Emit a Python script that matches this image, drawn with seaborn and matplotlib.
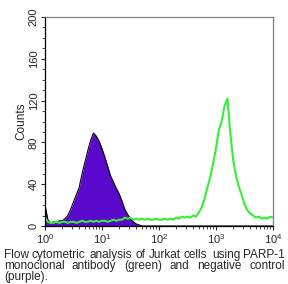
import numpy as np
import pandas as pd
import matplotlib
matplotlib.use("Agg")
import matplotlib.pyplot as plt
import matplotlib.ticker as mticker
import seaborn as sns

# channel grid (log10 fluorescence), 0.05 decade bins
log_channels = np.round(np.arange(0, 4.0001, 0.05), 2)

# negative control (purple) counts per channel
control_counts = [20, 6, 3, 4, 3, 5, 5, 7, 10, 16,
                  23, 30, 37, 50, 61, 72, 82, 89, 86, 81,
                  74, 66, 57, 48, 42, 36, 31, 24, 16, 11,
                  7, 4, 2, 1, 0, 0, 0, 0, 0, 0,
                  0, 0, 0, 0, 0, 0, 0, 0, 0, 0,
                  0, 0, 0, 0, 0, 0, 0, 0, 0, 0,
                  0, 0, 0, 0, 0, 0, 0, 0, 0, 0,
                  0, 0, 0, 0, 0, 0, 0, 0, 0, 0, 0]

# PARP-1 antibody (green) counts per channel
antibody_counts = [8, 4, 3, 3, 4, 3, 4, 4, 3, 4,
                   4, 3, 4, 5, 4, 4, 5, 4, 5, 4,
                   5, 5, 4, 5, 6, 5, 6, 6, 8, 7,
                   8, 6, 7, 6, 7, 6, 7, 6, 6, 7,
                   6, 6, 7, 6, 7, 6, 8, 7, 9, 8,
                   9, 8, 10, 9, 13, 18, 26, 37, 47, 60,
                   74, 92, 100, 115, 122, 90, 64, 48, 38, 30,
                   21, 15, 12, 10, 8, 9, 7, 8, 7, 9, 8]

x_ticks = [1, 10, 100, 1000, 10000]
y_ticks = [0, 40, 80, 120, 160, 200]
caption_lines = ["Flow cytometric analysis of Jurkat cells using PARP-1",
                 "monoclonal antibody (green) and negative control",
                 "(purple)."]

df = pd.DataFrame({"fl": 10 ** log_channels,
                   "control": control_counts,
                   "antibody": antibody_counts})

sns.set_style("ticks")
plt.rcParams["font.family"] = ["Liberation Sans", "DejaVu Sans"]
plt.rcParams["mathtext.fontset"] = "custom"
plt.rcParams["mathtext.rm"] = "Liberation Sans"

W, H = 288, 284
fig = plt.figure(figsize=(W / 100, H / 100), dpi=100)
ax = fig.add_axes([45 / W, 58 / H, 228 / W, 209 / H])

purple = "#5a08cc"
green = "#33f033"
ax.fill_between(df["fl"], df["control"], color=purple, linewidth=0)
sns.lineplot(data=df, x="fl", y="control", color="black", linewidth=0.8, ax=ax)
sns.lineplot(data=df, x="fl", y="antibody", color=green, linewidth=1.5, ax=ax)

ax.set_xscale("log")
ax.set_xlim(1, 10000)
ax.set_ylim(0, 200)
ax.set_xticks(x_ticks)
ax.xaxis.set_major_formatter(mticker.LogFormatterSciNotation())
ax.xaxis.set_minor_locator(mticker.LogLocator(base=10, subs=np.arange(2, 10)))
ax.xaxis.set_minor_formatter(mticker.NullFormatter())
ax.set_yticks(y_ticks)
ax.yaxis.set_minor_locator(mticker.MultipleLocator(10))
ax.tick_params(axis="both", which="major", labelsize=8, length=3, width=0.8,
               direction="out", pad=1.5)
ax.tick_params(axis="both", which="minor", length=2, width=0.6, direction="out")
for lab in ax.get_yticklabels():
    lab.set_rotation(90)
    lab.set_va("center")
ax.set_xlabel("")
ax.set_ylabel("Counts", fontsize=8.5, labelpad=1)
for name, sp in ax.spines.items():
    sp.set_visible(True)
    sp.set_linewidth(0.9)
    sp.set_color("black" if name in ("left", "bottom") else "#808080")

# caption, word by word: lines 1-2 justified across the figure
left_px, right_px = 4, 285
baselines = [258, 269, 280]
fig.canvas.draw()
renderer = fig.canvas.get_renderer()


def text_width(s, size):
    t = fig.text(0, 0, s, fontsize=size)
    w = t.get_window_extent(renderer).width
    t.remove()
    return w


fs = min(10 * (right_px - left_px) / text_width(caption_lines[0], 10), 9.0)
space_w = text_width("a a", fs) - text_width("aa", fs)
for i, (line, ypx) in enumerate(zip(caption_lines, baselines)):
    yf = 1 - round(ypx) / H
    words = line.split(" ")
    widths = [text_width(w, fs) for w in words]
    if i < len(caption_lines) - 1 and len(words) > 1:
        gap = (right_px - left_px - sum(widths)) / (len(words) - 1)
    else:
        gap = space_w
    xpos = left_px
    for w, wd in zip(words, widths):
        fig.text(round(xpos) / W, yf, w, fontsize=fs, va="baseline", ha="left")
        xpos += wd + gap

fig.savefig("out.png", dpi=100)
